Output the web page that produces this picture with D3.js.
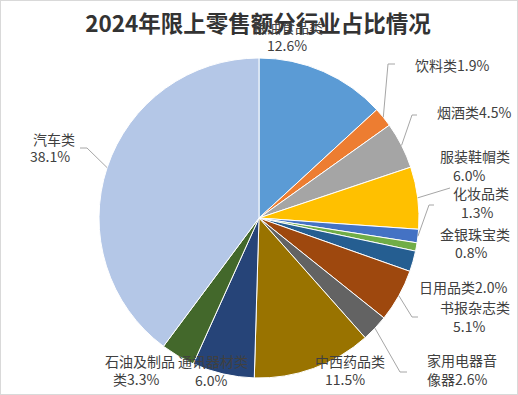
<!DOCTYPE html>
<html>
<head>
    <meta charset="utf-8">
    <style>
        body {
            margin: 0;
            background: white;
        }

        svg {
            display: block;
        }

        .title {
            font-family: "Noto Sans CJK SC", "Noto Sans", sans-serif;
            font-weight: bold;
            fill: #333;
        }

        .slice-label {
            font-family: "Noto Sans CJK SC", "Noto Sans", sans-serif;
            font-size: 14px;
            fill: #404040;
        }
    </style>
</head>

<body>
    <svg width="518" height="395"></svg>
</body>

<script src="https://d3js.org/d3.v7.min.js"></script>

<script>
    // data, clockwise from 12 o'clock
    let categories = ["粮油食品类", "饮料类", "烟酒类", "服装鞋帽类", "化妆品类", "金银珠宝类",
        "日用品类", "书报杂志类", "家用电器音像器", "中西药品类", "通讯器材类", "石油及制品类", "汽车类"]
    let values = [12.6, 1.9, 4.5, 6.0, 1.3, 0.8, 2.0, 5.1, 2.6, 11.5, 6.0, 3.3, 38.1]
    let colors = ["#5B9BD5", "#ED7D31", "#A5A5A5", "#FFC000", "#4472C4", "#70AD47",
        "#255E91", "#9E480E", "#636363", "#997300", "#264478", "#43682B", "#B4C7E7"]

    let width = 518
    let height = 395
    let cx = 259
    let cy = 218
    let radius = 160

    // where each label sits: line break, start of each line, and leader elbow (if any)
    let labelLayout = [
        { split: 5, lines: [[253, 33], [267, 51]], leader: null },
        { split: null, lines: [[415, 71]], leader: [[388, 64], [395, 64]] },
        { split: null, lines: [[437, 118]], leader: [[412, 115], [417, 115]] },
        { split: 5, lines: [[440, 162], [453, 181]], leader: [[450, 188]] },
        { split: 4, lines: [[453, 199], [461, 218]], leader: [[429, 205], [434, 205]] },
        { split: 5, lines: [[440, 240], [455, 258]], leader: null },
        { split: null, lines: [[419, 293]], leader: null },
        { split: 5, lines: [[440, 313], [453, 332]], leader: [[412, 317], [418, 317]] },
        { split: 5, lines: [[427, 366], [427, 385]], leader: [[400, 372], [407, 372]] },
        { split: 5, lines: [[315, 367], [325, 385]], leader: null },
        { split: 5, lines: [[178, 367], [195, 386]], leader: null },
        { split: 5, lines: [[105, 367], [113, 385]], leader: null },
        { split: 3, lines: [[33, 145], [30, 162]], leader: [[87, 148], [80, 148]] }
    ]

    let svg = d3.select("svg")

    svg.append("rect")
        .attr("x", 0.5)
        .attr("y", 0.5)
        .attr("width", width - 1)
        .attr("height", height - 1)
        .style("fill", "white")
        .style("stroke", "#D9D9D9")

    svg.append("text")
        .attr("class", "title")
        .attr("x", 258)
        .attr("y", 32)
        .attr("text-anchor", "middle")
        .style("font-size", "22.5px")
        .text("2024年限上零售额分行业占比情况")

    let pie = d3.pie()
        .sort(null)
        .value(d => d)

    let arcs = pie(values)

    let arc = d3.arc()
        .innerRadius(0)
        .outerRadius(radius)

    let edgeArc = d3.arc()
        .innerRadius(radius)
        .outerRadius(radius)

    let g = svg.append("g")
        .attr("transform", `translate(${cx},${cy})`)

    g.selectAll(".slice")
        .data(arcs)
        .join("path")
        .attr("class", "slice")
        .attr("d", arc)
        .style("fill", (d, i) => colors[i])
        .style("stroke", "white")
        .style("stroke-width", 1)

    // leader lines
    let line = d3.line()
    arcs.forEach((d, i) => {
        let lay = labelLayout[i]
        if (!lay.leader) return
        let p = edgeArc.centroid(d)
        let pts = [[p[0] + cx, p[1] + cy]].concat(lay.leader)
        svg.append("path")
            .attr("d", line(pts))
            .style("fill", "none")
            .style("stroke", "#A6A6A6")
            .style("stroke-width", 1)
    })

    // labels
    arcs.forEach((d, i) => {
        let lay = labelLayout[i]
        let full = categories[i] + d3.format(".1f")(values[i]) + "%"
        let parts = lay.split == null ? [full] : [full.slice(0, lay.split), full.slice(lay.split)]
        parts.forEach((t, j) => {
            svg.append("text")
                .attr("class", "slice-label")
                .attr("x", lay.lines[j][0])
                .attr("y", lay.lines[j][1])
                .text(t)
        })
    })
</script>
</html>
